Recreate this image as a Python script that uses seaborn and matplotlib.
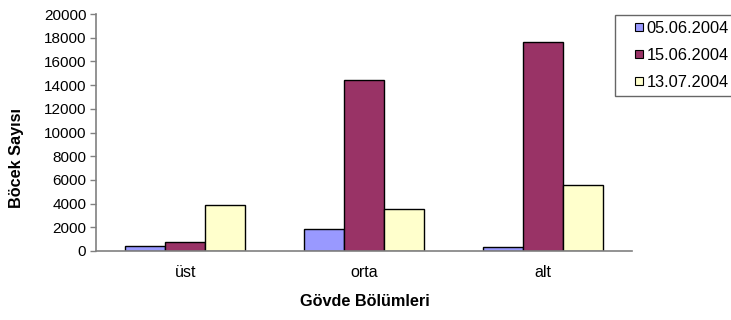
import matplotlib
matplotlib.use("Agg")
import matplotlib.pyplot as plt
import seaborn as sns
import pandas as pd
from matplotlib.lines import Line2D

# Insect counts per trunk section on three sampling dates
bolumler = ["üst", "orta", "alt"]
tarihler = ["05.06.2004", "15.06.2004", "13.07.2004"]
sayi_0506 = [450, 1830, 360]
sayi_1506 = [790, 14430, 17610]
sayi_1307 = [3860, 3520, 5570]
renkler = ["#9999FF", "#993366", "#FFFFCC"]
y_ticks = [0, 2000, 4000, 6000, 8000, 10000, 12000, 14000, 16000, 18000, 20000]

rows = []
for tarih, seri in zip(tarihler, [sayi_0506, sayi_1506, sayi_1307]):
    for b, v in zip(bolumler, seri):
        rows.append({"bolum": b, "tarih": tarih, "sayi": v})
df = pd.DataFrame(rows)

sns.set_theme(style="white")
plt.rcParams["font.family"] = ["Liberation Sans", "DejaVu Sans"]
plt.rcParams["text.color"] = "black"
plt.rcParams["xtick.labelcolor"] = "black"
plt.rcParams["ytick.labelcolor"] = "black"

W, H = 731, 320
fig = plt.figure(figsize=(W / 100, H / 100), dpi=100)
ax = fig.add_axes([96 / W, 1 - 251 / H, (632 - 96) / W, (251 - 14) / H])

sns.barplot(data=df, x="bolum", y="sayi", hue="tarih", order=bolumler,
            hue_order=tarihler, palette=renkler, width=0.672, gap=0,
            edgecolor="black", linewidth=1.0, saturation=1, ax=ax,
            legend=False)

ax.set_xlim(-0.5, 2.5)
ax.set_ylim(0, 20000)
ax.set_yticks(y_ticks)
ax.set_yticklabels([str(t) for t in y_ticks], fontsize=11, color="black")

# category labels centred, tick marks at category boundaries
ax.set_xticks([0, 1, 2])
ax.set_xticklabels(bolumler, fontsize=11.5, color="black")
ax.tick_params(axis="x", length=0, pad=10)
ax.set_xticks([0.5, 1.5, 2.5], minor=True)
ax.tick_params(axis="x", which="minor", length=3.5, width=1, color="#808080",
               direction="out")
ax.tick_params(axis="y", length=4, width=1, color="#808080", direction="out",
               pad=3, left=True)

for side in ["top", "right"]:
    ax.spines[side].set_visible(False)
for side in ["left", "bottom"]:
    ax.spines[side].set_color("#808080")
    ax.spines[side].set_linewidth(1.2)

ax.set_xlabel("")
ax.set_ylabel("")
fig.text(17 / W, 1 - 158 / H, "Böcek Sayısı", rotation=90, ha="center",
         va="center", fontsize=11.7, fontweight="bold", color="black")
fig.text(365 / W, 1 - 301 / H, "Gövde Bölümleri", ha="center", va="center",
         fontsize=11.7, fontweight="bold", color="black")

handles = [Line2D([], [], linestyle="none", marker="s", markersize=5.5,
                  markerfacecolor=c, markeredgecolor="black",
                  markeredgewidth=0.8) for c in renkler]
leg = fig.legend(handles, tarihler, loc="upper left",
                 bbox_to_anchor=(615 / W, 1 - 15 / H), fontsize=11.8,
                 frameon=True, fancybox=False, shadow=False,
                 handlelength=2.2, handletextpad=-0.65,
                 labelspacing=0.72, borderpad=0.38, borderaxespad=0,
                 labelcolor="black")
leg.get_frame().set_edgecolor("#404040")
leg.get_frame().set_linewidth(1.0)

fig.savefig("out.png", dpi=100, facecolor="white")
